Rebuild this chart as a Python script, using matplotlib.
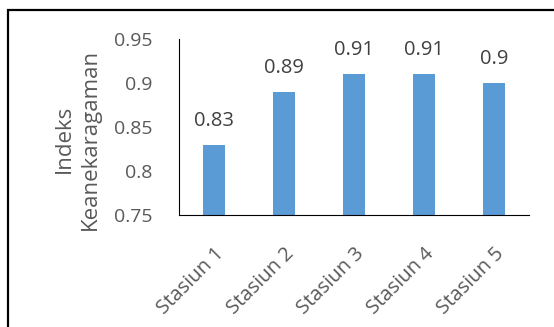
import matplotlib.pyplot as plt
from matplotlib.patches import Rectangle

stasiun = ['Stasiun 1', 'Stasiun 2', 'Stasiun 3', 'Stasiun 4', 'Stasiun 5']
indeks = [0.83, 0.89, 0.91, 0.91, 0.90]
label_nilai = ['0.83', '0.89', '0.91', '0.91', '0.9']
y_ticks = [0.75, 0.8, 0.85, 0.9, 0.95]
y_tick_labels = ['0.75', '0.8', '0.85', '0.9', '0.95']

plt.rcParams['font.family'] = ['Open Sans', 'DejaVu Sans']
abu = '#595959'

fig = plt.figure(figsize=(5.54, 3.27), dpi=100)
ax = fig.add_axes([179 / 554, 1 - 215 / 327, 350 / 554, 176 / 327])

x = list(range(len(stasiun)))
ax.bar(x, indeks, width=0.31, color='#5B9BD5')
ax.set_xlim(-0.5, 4.5)
ax.set_ylim(0.75, 0.95)

for xi, v, lbl in zip(x, indeks, label_nilai):
    ax.text(xi, v + 0.016, lbl, ha='center', va='bottom', fontsize=14.5, color='#404040')

ax.set_yticks(y_ticks)
ax.set_yticklabels(y_tick_labels, fontsize=14, color=abu)
ax.set_xticks(x)
ax.set_xticklabels(stasiun, rotation=45, ha='right', rotation_mode='anchor',
                   fontsize=14.5, color=abu)
ax.tick_params(axis='both', length=0)
ax.tick_params(axis='y', pad=19)
ax.tick_params(axis='x', pad=21)

for s in ['top', 'right']:
    ax.spines[s].set_visible(False)
ax.spines['left'].set_color('black')
ax.spines['bottom'].set_color('black')

ax.set_ylabel('Indeks\nKeanekaragaman', fontsize=16, color=abu, linespacing=1.35)
ax.yaxis.set_label_coords(-0.222, 0.43)

# bingkai hitam di sekeliling gambar
fig.patches.append(Rectangle((8 / 554, -0.05), 1.1, 1 - 9.5 / 327 + 0.05,
                             transform=fig.transFigure, fill=False,
                             edgecolor='black', linewidth=1.6))

fig.savefig('out.png', dpi=100)
